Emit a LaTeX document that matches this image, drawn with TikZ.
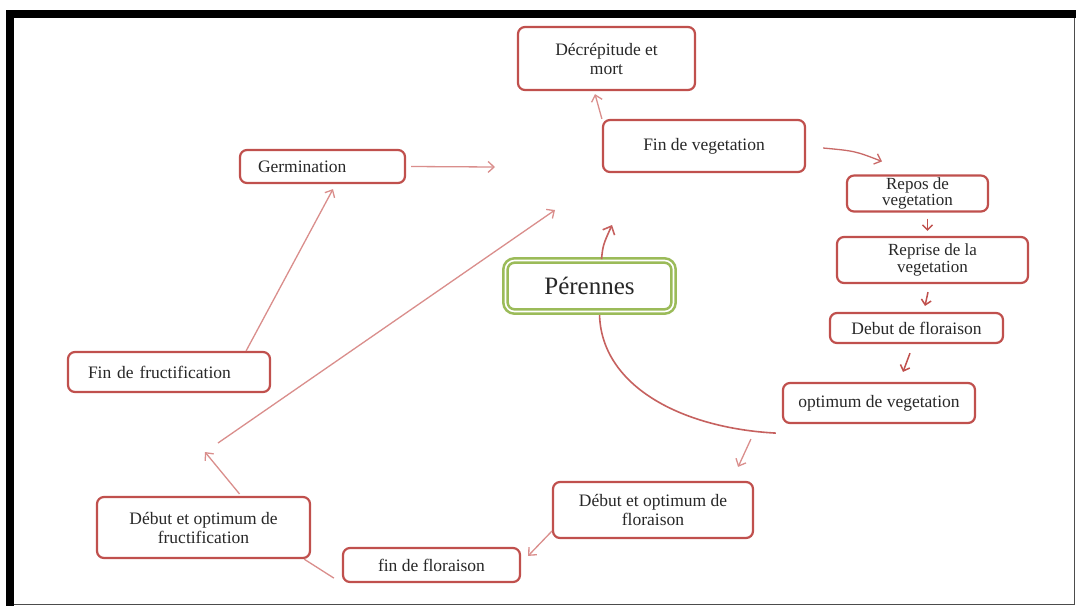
\documentclass[tikz,border=0pt]{standalone}
\usepackage{fontspec}
\setmainfont{Liberation Serif}
\usetikzlibrary{arrows.meta,backgrounds}
\definecolor{boxred}{RGB}{192,80,77}
\definecolor{linkpink}{RGB}{218,142,140}
\definecolor{peregreen}{RGB}{155,187,89}
\definecolor{txt}{RGB}{40,40,40}
\begin{document}
\begin{tikzpicture}[x=1pt,y=-1pt,
  stage/.style={draw=boxred,line width=2.2pt,rounded corners=7pt,fill=white,align=center,
    inner sep=2pt,text=txt,font=\fontsize{17.5}{19}\selectfont},
  tight/.style={font=\fontsize{17}{16.5}\selectfont},
  conn/.style={draw=linkpink,line width=1.3pt,-{Straight Barb[length=6pt,width=11pt]}},
  tick/.style={draw=boxred,line width=1.5pt,-{Straight Barb[length=5pt,width=10pt]}},
  cycle/.style={draw=boxred!90,line width=1.6pt}]
\useasboundingbox (0,0) rectangle (1076,606);
% Stages
\node[stage,minimum width=177pt,minimum height=63pt] (decr) at (606.5,58.5) {Décrépitude et\\mort};
\node[stage,minimum width=202pt,minimum height=52pt] (finveg) at (704,146) {Fin de vegetation};
\node[stage,text width=129pt,align=left,inner xsep=18pt,minimum height=33pt] (germ) at (322.5,166.5) {Germination};
\node[stage,tight,minimum width=141pt,minimum height=35pt] (repos) at (917.5,193.5) {Repos de\\vegetation};
\node[stage,tight,minimum width=191pt,minimum height=46pt] (reprise) at (932.5,260) {Reprise de la\\vegetation};
\node[stage,minimum width=173pt,minimum height=30pt] (debflo) at (916.5,328) {Debut de floraison};
\node[stage,minimum width=192pt,minimum height=40pt] (optveg) at (879,403) {optimum de vegetation};
\node[stage,text width=162pt,align=left,inner xsep=20pt,minimum height=40pt] (finfr) at (169,372) {Fin de fructification};
\node[stage,minimum width=213pt,minimum height=61pt] (dofr) at (203.5,527.5) {Début et optimum de\\fructification};
\node[stage,minimum width=200pt,minimum height=56pt] (dofl) at (653,510) {Début et optimum de\\floraison};
\node[stage,minimum width=177pt,minimum height=34pt] (finflo) at (431.5,565) {fin de floraison};
\node[draw=peregreen,double=white,double distance=1.6pt,line width=2.6pt,rounded corners=9pt,fill=white,
  minimum width=168pt,minimum height=51pt,text=txt,font=\fontsize{25}{28}\selectfont] (peren) at (589.5,286) {Pérennes};
% Free arrow ends
\coordinate (gtip) at (495,167);
\coordinate (ptip) at (612,225);
\coordinate (ftip) at (205,452);
\coordinate (lstart) at (218,443);
\coordinate (lend) at (555,210);
\begin{pgfonlayer}{background}
% Frame
\fill[white] (0,0) rectangle (1076,606);
\fill[black] (6,10) rectangle (1076,18);
\fill[black] (6,10) rectangle (14,606);
\draw[black!70,line width=1pt] (14,604) -- (1074,604) -- (1074,18);
% Cycle through the centre
\draw[cycle] ([shift={(-6,9)}]optveg.south west) .. controls (680,428) and (600,385) .. ([xshift=10pt]peren.south);
\end{pgfonlayer}
\draw[cycle,-{Straight Barb[length=7pt,width=13pt]}] ([xshift=12pt]peren.north) .. controls (603,245) .. (ptip);
% Arrows
\draw[conn] (finveg.north west) -- ([shift={(-11.5,3)}]decr.south);
\draw[conn] ([xshift=5pt]germ.east) -- (gtip);
\draw[conn,draw=boxred!85] ([shift={(17,2)}]finveg.east) .. controls (855,151) .. ([shift={(-35.5,-13)}]repos.north);
\draw[tick] ([shift={(10,6)}]repos.south) -- ([shift={(-5,-5)}]reprise.north);
\draw[tick] ([shift={(-4.5,8)}]reprise.south) -- ([shift={(8.5,-6)}]debflo.north);
\draw[tick] ([shift={(-6.5,9)}]debflo.south) -- ([shift={(24,-10)}]optveg.north);
\draw[conn] ([shift={(-31,15)}]optveg.south west) -- ([shift={(-16,-14)}]dofl.north east);
\draw[conn] ([shift={(0,-8)}]dofl.south west) -- ([shift={(7,9)}]finflo.north east);
\draw[draw=linkpink,line width=1.3pt] ([shift={(-8,-5)}]finflo.south west) -- ([shift={(-7,0)}]dofr.south east);
\draw[conn] ([shift={(36,-2)}]dofr.north) -- (ftip);
\draw[conn] (lstart) -- (lend);
\draw[conn] ([shift={(-25,0)}]finfr.north east) -- ([shift={(10.5,5)}]germ.south);
\end{tikzpicture}
\end{document}
